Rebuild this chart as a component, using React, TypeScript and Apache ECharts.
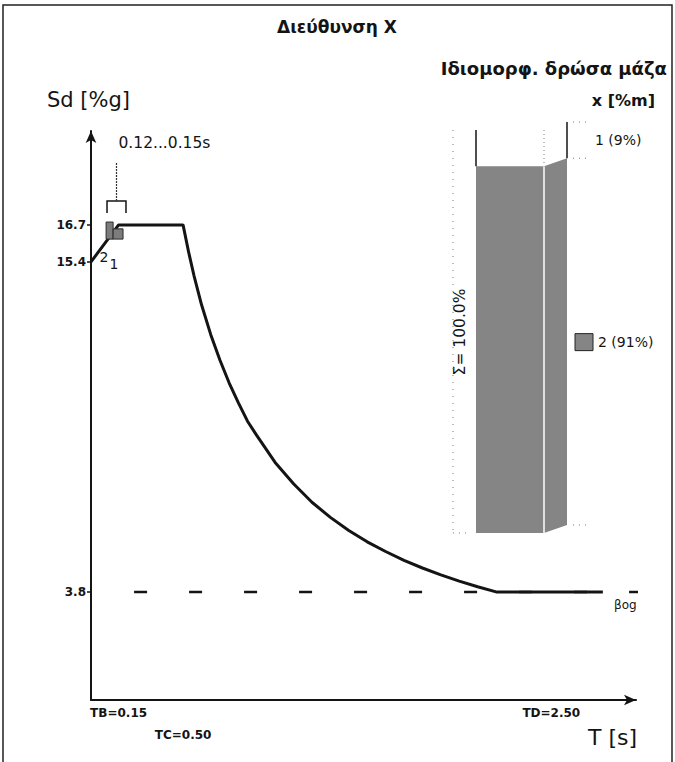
import React, { useEffect, useRef } from 'react';
import * as echarts from 'echarts';

// Design spectrum Sd(T)
const spectrumT = [0, 0.15, 0.5, 0.53, 0.56, 0.6, 0.65, 0.7, 0.75, 0.8, 0.85, 0.9, 1.0, 1.1, 1.2, 1.3, 1.4, 1.5, 1.6, 1.7, 1.8, 1.9, 2.0, 2.1, 2.2, 2.78];
const spectrumSd = [15.4, 16.7, 16.7, 15.75, 14.9, 13.9, 12.85, 11.95, 11.15, 10.45, 9.8, 9.3, 8.35, 7.6, 6.95, 6.42, 5.96, 5.56, 5.22, 4.91, 4.64, 4.4, 4.18, 3.98, 3.8, 3.8];

// beta0 * g floor line
const floorT = [0.234, 3.0];
const floorSd = [3.8, 3.8];
const floorLabel = 'βog';

// axis ticks
const yTickValues = [3.8, 15.4, 16.7];
const xTickValues = [0.15, 0.5, 2.5];
const xTickLabels = ['TB=0.15', 'TC=0.50', 'TD=2.50'];

// mode markers on the spectrum
const modeNames = ['2', '1'];
const modeStartT = [0.082, 0.12];
const modeEndT = [0.12, 0.174];
const modeTopSd = [16.8, 16.56];
const modeBottomSd = [16.2, 16.2];

// period range bracket
const bracketT = [0.087, 0.19];
const bracketSd = 17.54;
const bracketLabel = '0.12...0.15s';

// effective modal mass
const massModes = ['2', '1'];
const massPercent = [91, 9];
const massLabels = ['2 (91%)', '1 (9%)'];
const massTotalLabel = 'Σ= 100.0%';

const FONT = '"DejaVu Sans", Verdana, sans-serif';
const INK = '#141414';
const GRAY = '#858585';

export default function App() {
  const ref = useRef<HTMLDivElement>(null);

  useEffect(() => {
    document.body.style.margin = '0';
    document.body.style.background = '#ffffff';
    if (!ref.current) return;
    const chart = echarts.init(ref.current, null, { renderer: 'svg' });

    const massStarts: number[] = [];
    let acc = 0;
    massPercent.forEach((v) => {
      massStarts.push(acc);
      acc += v;
    });

    const option: any = {
      animation: false,
      backgroundColor: '#ffffff',
      textStyle: { fontFamily: FONT },
      grid: [
        { left: 91, right: 39, top: 131, bottom: 62 },
        { left: 476, top: 130, width: 68, height: 403 },
      ],
      xAxis: [
        {
          type: 'value',
          gridIndex: 0,
          min: 0,
          max: 2.96,
          axisLine: {
            lineStyle: { color: INK, width: 2 },
            symbol: ['none', 'arrow'],
            symbolSize: [8, 12],
          },
          axisTick: { show: false },
          splitLine: { show: false },
          axisLabel: {
            customValues: xTickValues,
            margin: 2,
            color: INK,
            fontFamily: FONT,
            fontSize: 12,
            fontWeight: 'bold',
            lineHeight: 22,
            formatter: (v: number) => {
              const i = xTickValues.indexOf(v);
              if (i < 0) return '';
              return i === 1 ? '\n' + xTickLabels[i] : xTickLabels[i];
            },
          },
        },
        {
          type: 'value',
          gridIndex: 1,
          min: 0,
          max: 1,
          show: false,
        },
      ],
      yAxis: [
        {
          type: 'value',
          gridIndex: 0,
          min: 0,
          max: 20,
          axisLine: {
            show: true,
            lineStyle: { color: INK, width: 2 },
            symbol: ['none', 'arrow'],
            symbolSize: [8, 12],
          },
          axisTick: {
            show: true,
            customValues: yTickValues,
            length: 4,
            lineStyle: { color: INK, width: 1.5 },
          },
          splitLine: { show: false },
          axisLabel: {
            customValues: yTickValues,
            margin: 5,
            color: INK,
            fontFamily: FONT,
            fontSize: 12,
            fontWeight: 'bold',
            formatter: (v: number) => v.toFixed(1),
          },
        },
        {
          type: 'value',
          gridIndex: 1,
          min: 0,
          max: 100,
          show: false,
        },
      ],
      series: [
        {
          type: 'line',
          xAxisIndex: 0,
          yAxisIndex: 0,
          data: floorT.map((t, i) => [t, floorSd[i]]),
          showSymbol: false,
          clip: false,
          lineStyle: { color: INK, width: 2.5, type: [13, 42] },
          z: 2,
          silent: true,
        },
        {
          type: 'line',
          xAxisIndex: 0,
          yAxisIndex: 0,
          data: spectrumT.map((t, i) => [t, spectrumSd[i]]),
          showSymbol: false,
          lineStyle: { color: INK, width: 3 },
          z: 3,
          silent: true,
        },
        {
          type: 'custom',
          xAxisIndex: 0,
          yAxisIndex: 0,
          clip: false,
          z: 4,
          data: modeNames.map((_, i) => [modeStartT[i], modeEndT[i], modeTopSd[i], modeBottomSd[i]]),
          renderItem: (params: any, api: any) => {
            const p1 = api.coord([api.value(0), api.value(2)]);
            const p2 = api.coord([api.value(1), api.value(3)]);
            return {
              type: 'rect',
              shape: { x: p1[0], y: p1[1], width: p2[0] - p1[0], height: p2[1] - p1[1] },
              style: { fill: '#7c7c7c', stroke: '#2a2a2a', lineWidth: 1 },
            };
          },
        },
        {
          type: 'custom',
          xAxisIndex: 0,
          yAxisIndex: 0,
          clip: false,
          z: 4,
          data: [[bracketT[0], bracketT[1], bracketSd]],
          renderItem: (params: any, api: any) => {
            const pL = api.coord([api.value(0), api.value(2)]);
            const pR = api.coord([api.value(1), api.value(2)]);
            const mid = (pL[0] + pR[0]) / 2;
            return {
              type: 'group',
              children: [
                {
                  type: 'polyline',
                  shape: { points: [[pL[0], pL[1] + 12], [pL[0], pL[1]], [pR[0], pR[1]], [pR[0], pR[1] + 12]] },
                  style: { stroke: INK, lineWidth: 1.5, fill: 'none' },
                },
                {
                  type: 'line',
                  shape: { x1: mid, y1: pL[1], x2: mid, y2: pL[1] - 39 },
                  style: { stroke: '#333', lineWidth: 1.2, lineDash: [2, 1] },
                },
                {
                  type: 'text',
                  style: {
                    text: bracketLabel,
                    x: mid + 2,
                    y: pL[1] - 58,
                    fill: INK,
                    font: '15.5px ' + FONT,
                    textAlign: 'left',
                    textVerticalAlign: 'middle',
                  },
                },
              ],
            };
          },
        },
        {
          type: 'custom',
          xAxisIndex: 1,
          yAxisIndex: 1,
          clip: false,
          z: 4,
          data: massModes.map((_, i) => [i, massStarts[i], massStarts[i] + massPercent[i]]),
          renderItem: (params: any, api: any) => {
            const i = api.value(0);
            const s = api.value(1);
            const e = api.value(2);
            const pTL = api.coord([0, e]);
            const pBR = api.coord([1, s]);
            const dx = 23;
            const dy = -8;
            const x0 = pTL[0];
            const x1 = pBR[0];
            const yT = pTL[1];
            const yB = pBR[1];
            const xs = x1 + dx;
            const children: any[] = [];
            const filled = i === 0;
            if (filled) {
              children.push({
                type: 'rect',
                shape: { x: x0, y: yT, width: x1 - x0, height: yB - yT },
                style: { fill: GRAY },
              });
              children.push({
                type: 'polygon',
                shape: { points: [[x1, yT], [xs, yT + dy], [xs, yB + dy], [x1, yB]] },
                style: { fill: GRAY },
              });
              children.push({
                type: 'line',
                shape: { x1: x1, y1: yT, x2: x1, y2: yB },
                style: { stroke: '#ffffff', lineWidth: 1.5 },
              });
              // total (Σ) indicator on the left
              const top = api.coord([0, 100]);
              const bot = api.coord([0, 0]);
              children.push({
                type: 'line',
                shape: { x1: x0 - 23, y1: top[1], x2: x0 - 23, y2: bot[1] },
                style: { stroke: '#777', lineWidth: 1, lineDash: [1, 6] },
              });
              children.push({
                type: 'line',
                shape: { x1: x0 - 23, y1: bot[1], x2: x0 - 8, y2: bot[1] },
                style: { stroke: '#777', lineWidth: 1, lineDash: [1, 5] },
              });
              children.push({
                type: 'line',
                shape: { x1: xs + 6, y1: yB + dy, x2: xs + 21, y2: yB + dy },
                style: { stroke: '#777', lineWidth: 1, lineDash: [1, 5] },
              });
              children.push({
                type: 'rect',
                shape: { x: xs + 8, y: (yT + yB) / 2 + dy - 8, width: 18, height: 17 },
                style: { fill: GRAY, stroke: '#222', lineWidth: 1 },
              });
            } else {
              children.push({
                type: 'line',
                shape: { x1: x0, y1: yT, x2: x0, y2: yB },
                style: { stroke: INK, lineWidth: 1.5 },
              });
              children.push({
                type: 'line',
                shape: { x1: xs, y1: yT + dy, x2: xs, y2: yB + dy },
                style: { stroke: INK, lineWidth: 1.5 },
              });
              children.push({
                type: 'line',
                shape: { x1: x1, y1: yT, x2: x1, y2: yB },
                style: { stroke: '#888', lineWidth: 1, lineDash: [1, 3] },
              });
            }
            children.push({
              type: 'line',
              shape: { x1: xs + 6, y1: yT + dy, x2: xs + 21, y2: yT + dy },
              style: { stroke: '#777', lineWidth: 1, lineDash: [1, 5] },
            });
            children.push({
              type: 'text',
              style: {
                text: massLabels[i],
                x: filled ? xs + 31 : xs + 28,
                y: (yT + yB) / 2 + dy,
                fill: INK,
                font: '14px ' + FONT,
                textAlign: 'left',
                textVerticalAlign: 'middle',
              },
            });
            return { type: 'group', children };
          },
        },
      ],
      graphic: [
        {
          type: 'rect',
          shape: { x: 3, y: 5, width: 669, height: 800 },
          style: { fill: 'none', stroke: '#222', lineWidth: 1.5 },
          silent: true,
        },
        {
          type: 'text',
          style: { text: 'Διεύθυνση X', x: 337, y: 27, font: 'bold 17px ' + FONT, fill: INK, textAlign: 'center', textVerticalAlign: 'middle' },
        },
        {
          type: 'text',
          style: { text: 'Ιδιομορφ. δρώσα μάζα', x: 667, y: 68, font: 'bold 18px ' + FONT, fill: INK, textAlign: 'right', textVerticalAlign: 'middle' },
        },
        {
          type: 'text',
          style: { text: 'x [%m]', x: 655, y: 100, font: 'bold 16px ' + FONT, fill: INK, textAlign: 'right', textVerticalAlign: 'middle' },
        },
        {
          type: 'text',
          style: { text: 'Sd [%g]', x: 47, y: 100, font: '21px ' + FONT, fill: INK, textAlign: 'left', textVerticalAlign: 'middle' },
        },
        {
          type: 'text',
          style: { text: 'T [s]', x: 588, y: 737, font: '22px ' + FONT, fill: INK, textAlign: 'left', textVerticalAlign: 'middle' },
        },
        {
          type: 'text',
          style: { text: floorLabel, x: 614, y: 605, font: '12px ' + FONT, fill: INK, textAlign: 'left', textVerticalAlign: 'middle' },
        },
        {
          type: 'text',
          style: { text: modeNames[0], x: 104, y: 257, font: '14px ' + FONT, fill: INK, textAlign: 'center', textVerticalAlign: 'middle' },
        },
        {
          type: 'text',
          style: { text: modeNames[1], x: 114, y: 264, font: '14px ' + FONT, fill: INK, textAlign: 'center', textVerticalAlign: 'middle' },
        },
        {
          type: 'text',
          rotation: Math.PI / 2,
          x: 460,
          y: 332,
          style: { text: massTotalLabel, x: 0, y: 0, font: '15.5px ' + FONT, fill: INK, textAlign: 'center', textVerticalAlign: 'middle' },
        },
      ],
    };

    chart.setOption(option);
    return () => chart.dispose();
  }, []);

  return <div ref={ref} style={{ width: 675, height: 762, background: '#fff' }} />;
}
